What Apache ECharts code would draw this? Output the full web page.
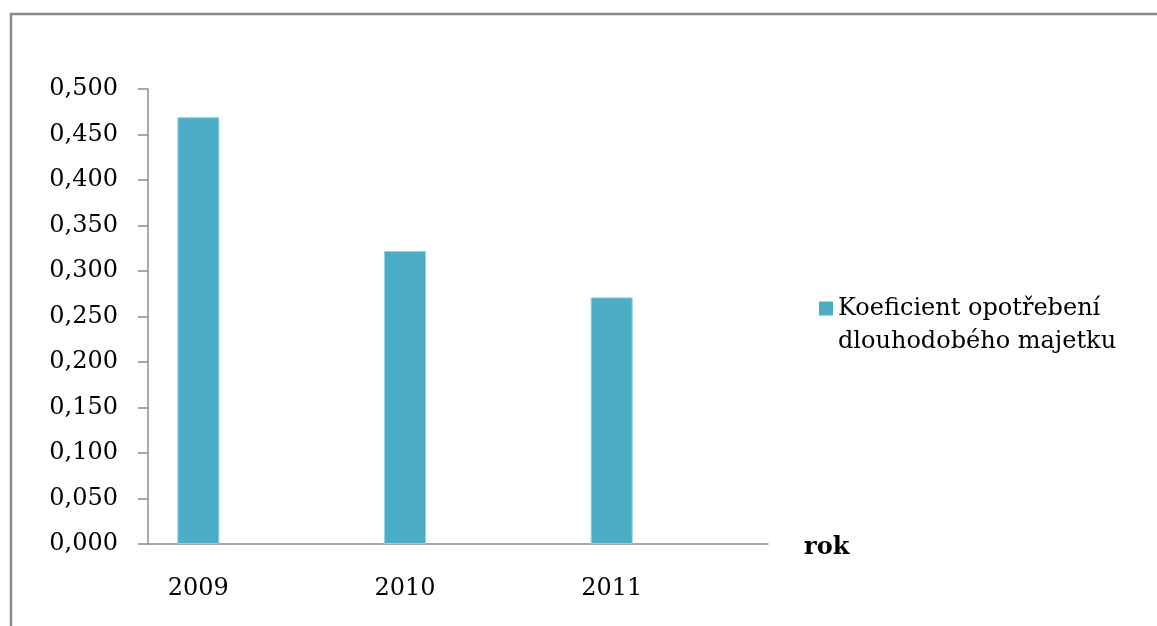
<!DOCTYPE html>
<html>
<head>
<meta charset="utf-8">
<script src="https://cdn.jsdelivr.net/npm/echarts@6/dist/echarts.min.js"></script>
<style>
  html, body { margin: 0; padding: 0; background: #fff; }
  #chart { width: 1157px; height: 626px; }
</style>
</head>
<body>
<div id="chart"></div>
<script>
// Koeficient opotřebení dlouhodobého majetku by year
const years = ['2009', '2010', '2011'];
const koeficient = [0.469, 0.322, 0.271];
const seriesName = 'Koeficient opotřebení dlouhodobého majetku';
const legendLines = ['Koeficient opotřebení', 'dlouhodobého majetku'];
const axisName = 'rok';

const serif = '"DejaVu Serif", "Liberation Serif", serif';
const axisGray = '#8c8c8c';
const chart = echarts.init(document.getElementById('chart'));

const fmt = v => v.toFixed(3).replace('.', ',');

chart.setOption({
  animation: false,
  backgroundColor: '#ffffff',
  graphic: [{
    type: 'rect',
    z: -1,
    shape: { x: 11, y: 14, width: 1300, height: 800 },
    style: { fill: 'none', stroke: '#8a8a8a', lineWidth: 2.5 }
  }],
  // grid 0 carries the axis frame, grid 1 carries the bars (shifted left inside the frame)
  grid: [
    { left: 148, top: 89, width: 620, height: 455 },
    { left: 95, top: 89, width: 620, height: 455 }
  ],
  legend: {
    left: 819,
    top: 259,
    padding: 0,
    orient: 'vertical',
    icon: 'rect',
    itemWidth: 14,
    itemHeight: 14,
    data: [seriesName],
    itemStyle: { borderWidth: 0 },
    // leading empty line keeps the first text line level with the marker
    formatter: () => '\n' + legendLines.join('\n'),
    textStyle: {
      fontFamily: serif,
      fontSize: 24,
      color: '#000',
      lineHeight: 33
    }
  },
  xAxis: [
    {
      gridIndex: 0,
      type: 'category',
      data: years,
      name: axisName,
      nameLocation: 'end',
      nameGap: 36,
      nameTextStyle: {
        fontFamily: serif,
        fontSize: 24,
        fontWeight: 'bold',
        color: '#000',
        verticalAlign: 'top',
        lineHeight: 8
      },
      axisLine: { lineStyle: { color: axisGray, width: 1.5 } },
      axisTick: { show: false },
      axisLabel: { show: false }
    },
    {
      gridIndex: 1,
      type: 'category',
      data: years,
      axisLine: { show: false },
      axisTick: { show: false },
      axisLabel: {
        fontFamily: serif,
        fontSize: 24,
        color: '#000',
        margin: 33
      }
    }
  ],
  yAxis: [
    {
      gridIndex: 0,
      type: 'value',
      min: 0,
      max: 0.5,
      interval: 0.05,
      splitLine: { show: false },
      axisLine: { show: true, lineStyle: { color: axisGray, width: 1.5 } },
      axisTick: { show: true, length: 10, lineStyle: { color: axisGray, width: 1.5 } },
      axisLabel: {
        fontFamily: serif,
        fontSize: 24,
        color: '#000',
        margin: 30,
        formatter: fmt
      }
    },
    {
      gridIndex: 1,
      type: 'value',
      min: 0,
      max: 0.5,
      interval: 0.05,
      show: false,
      splitLine: { show: false }
    }
  ],
  series: [{
    name: seriesName,
    type: 'bar',
    xAxisIndex: 1,
    yAxisIndex: 1,
    data: koeficient,
    barWidth: 42,
    itemStyle: {
      color: '#4bacc6',
      borderColor: '#93d3e3',
      borderWidth: 1
    }
  }]
});
</script>
</body>
</html>
